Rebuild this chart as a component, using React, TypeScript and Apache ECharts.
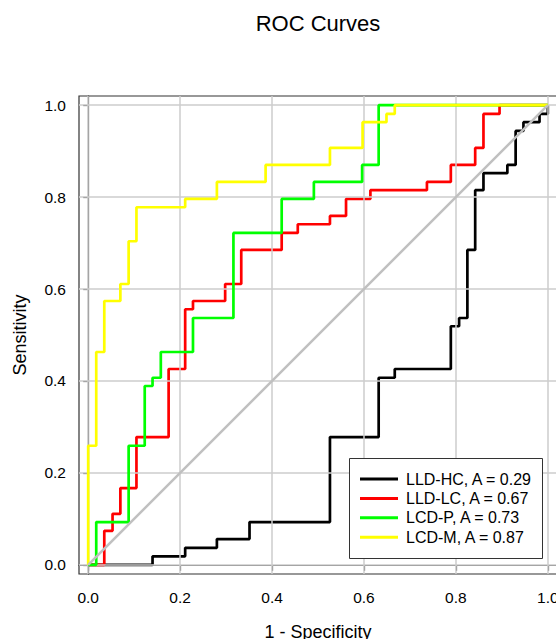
import React, { useEffect, useRef } from "react";
import * as echarts from "echarts";

const FONT = "'Liberation Sans', Arial, Helvetica, sans-serif";

const titleText = "ROC Curves";
const xName = "1 - Specificity";
const yName = "Sensitivity";

const xTicks = [0, 0.2, 0.4, 0.6, 0.8, 1.0];
const yTicks = [0, 0.2, 0.4, 0.6, 0.8, 1.0];

const seriesNames = ["LLD-HC, A = 0.29", "LLD-LC, A = 0.67", "LCD-P, A = 0.73", "LCD-M, A = 0.87"];
const seriesColors = ["#000000", "#ff0000", "#00ff00", "#ffff00"];

// [1 - specificity, sensitivity] corner points (step: horizontal then vertical)
const lldHC = [
  [0, 0], [0.14, 0.0185], [0.211, 0.037], [0.28, 0.056], [0.351, 0.093],
  [0.526, 0.278], [0.632, 0.407], [0.667, 0.426], [0.789, 0.519], [0.807, 0.537],
  [0.825, 0.685], [0.842, 0.815], [0.86, 0.852], [0.912, 0.87], [0.93, 0.944],
  [0.947, 0.963], [0.982, 0.981], [1.0, 1.0],
];
const lldLC = [
  [0, 0], [0.035, 0.074], [0.053, 0.111], [0.07, 0.167], [0.105, 0.278],
  [0.175, 0.426], [0.211, 0.556], [0.228, 0.574], [0.298, 0.611], [0.333, 0.685],
  [0.421, 0.722], [0.456, 0.741], [0.526, 0.759], [0.561, 0.796], [0.614, 0.815],
  [0.737, 0.833], [0.789, 0.87], [0.842, 0.907], [0.86, 0.981], [0.895, 1.0], [1.0, 1.0],
];
const lcdP = [
  [0, 0], [0.0175, 0.093], [0.088, 0.259], [0.123, 0.389], [0.14, 0.407],
  [0.158, 0.463], [0.228, 0.537], [0.316, 0.722], [0.421, 0.796], [0.491, 0.833],
  [0.596, 0.87], [0.632, 1.0], [1.0, 1.0],
];
const lcdM = [
  [0, 0], [0, 0.259], [0.0175, 0.463], [0.035, 0.574], [0.07, 0.611],
  [0.088, 0.704], [0.105, 0.778], [0.211, 0.796], [0.28, 0.833], [0.386, 0.87],
  [0.526, 0.907], [0.597, 0.963], [0.649, 0.981], [0.667, 1.0], [1.0, 1.0],
];
const chanceLine = [[0, 0], [1, 1]];

const curves = [lldHC, lldLC, lcdP, lcdM];

export default function App() {
  const ref = useRef<HTMLDivElement>(null);
  useEffect(() => {
    if (!ref.current) return;
    const chart = echarts.init(ref.current, null, { renderer: "svg" });
    const gridMarks = [
      ...xTicks.map((v) => ({ xAxis: v })),
      ...yTicks.map((v) => ({ yAxis: v })),
    ];
    const option: any = {
      animation: false,
      backgroundColor: "#ffffff",
      graphic: [
        {
          type: "text",
          x: 318,
          y: 23.5,
          style: {
            text: titleText,
            textAlign: "center",
            textVerticalAlign: "middle",
            fontSize: 22,
            fontFamily: FONT,
            fill: "#000",
          },
        },
        {
          type: "rect",
          z: 50,
          shape: { x: 349.5, y: 458.5, width: 193, height: 100 },
          style: { fill: "#ffffff", stroke: "#333", lineWidth: 1 },
        },
      ],
      grid: {
        left: 79,
        top: 96,
        width: 478,
        height: 478,
        outerBoundsMode: "none",
        containLabel: false,
        show: true,
        borderColor: "#333",
        borderWidth: 1.2,
        backgroundColor: "transparent",
      },
      legend: {
        data: seriesNames,
        orient: "vertical",
        left: 360,
        top: 471,
        z: 60,
        icon: "rect",
        itemWidth: 38,
        itemHeight: 3,
        itemGap: 3.4,
        padding: 0,
        selectedMode: false,
        formatter: (name: string) => "{t|" + name + "}",
        textStyle: {
          color: "#000",
          fontFamily: FONT,
          fontSize: 16,
          rich: {
            t: {
              fontSize: 16,
              lineHeight: 16,
              color: "#000",
              fontFamily: FONT,
              padding: [0, 0, 0, 3],
            },
          },
        },
      },
      xAxis: {
        type: "value",
        min: -0.02,
        max: 1.02,
        name: xName,
        nameLocation: "middle",
        nameGap: 49,
        nameTextStyle: { fontSize: 18, color: "#000", fontFamily: FONT },
        axisLine: { show: true, lineStyle: { color: "#333", width: 1.2 } },
        axisTick: { show: true, length: 6, customValues: xTicks, lineStyle: { color: "#333", width: 1.2 } },
        axisLabel: {
          show: true,
          customValues: xTicks,
          margin: 15,
          fontSize: 15.5,
          color: "#000",
          fontFamily: FONT,
          formatter: (v: number) => v.toFixed(1),
        },
        splitLine: { show: false },
      },
      yAxis: {
        type: "value",
        min: -0.02,
        max: 1.02,
        name: yName,
        nameLocation: "middle",
        nameGap: 50,
        nameRotate: 90,
        nameTextStyle: { fontSize: 18, color: "#000", fontFamily: FONT },
        axisLine: { show: true, lineStyle: { color: "#333", width: 1.2 } },
        axisTick: { show: true, length: 5, customValues: yTicks, lineStyle: { color: "#333", width: 1.2 } },
        axisLabel: {
          show: true,
          customValues: yTicks,
          margin: 13,
          fontSize: 15.5,
          color: "#000",
          fontFamily: FONT,
          formatter: (v: number) => v.toFixed(1),
        },
        splitLine: { show: false },
      },
      series: [
        {
          type: "line",
          name: "__grid",
          data: [[0, 0]],
          showSymbol: false,
          symbol: "none",
          silent: true,
          z: 1,
          lineStyle: { opacity: 0 },
          markLine: {
            silent: true,
            symbol: ["none", "none"],
            label: { show: false },
            lineStyle: { type: "solid", color: "#cccccc", width: 1.5 },
            data: gridMarks,
          },
        },
        ...curves.map((d, i) => ({
          type: "line",
          name: seriesNames[i],
          data: d,
          step: "end",
          symbol: "none",
          showSymbol: false,
          color: seriesColors[i],
          lineStyle: { color: seriesColors[i], width: 2.7 },
          z: 3 + i,
        })),
        {
          type: "line",
          name: "__chance",
          data: chanceLine,
          symbol: "none",
          showSymbol: false,
          silent: true,
          lineStyle: { color: "#c0c0c0", width: 2.5 },
          z: 10,
        },
      ],
    };
    chart.setOption(option);
    return () => chart.dispose();
  }, []);
  return (
    <div
      ref={ref}
      style={{ position: "fixed", left: 0, top: 0, width: 556, height: 639, background: "#fff" }}
    />
  );
}
